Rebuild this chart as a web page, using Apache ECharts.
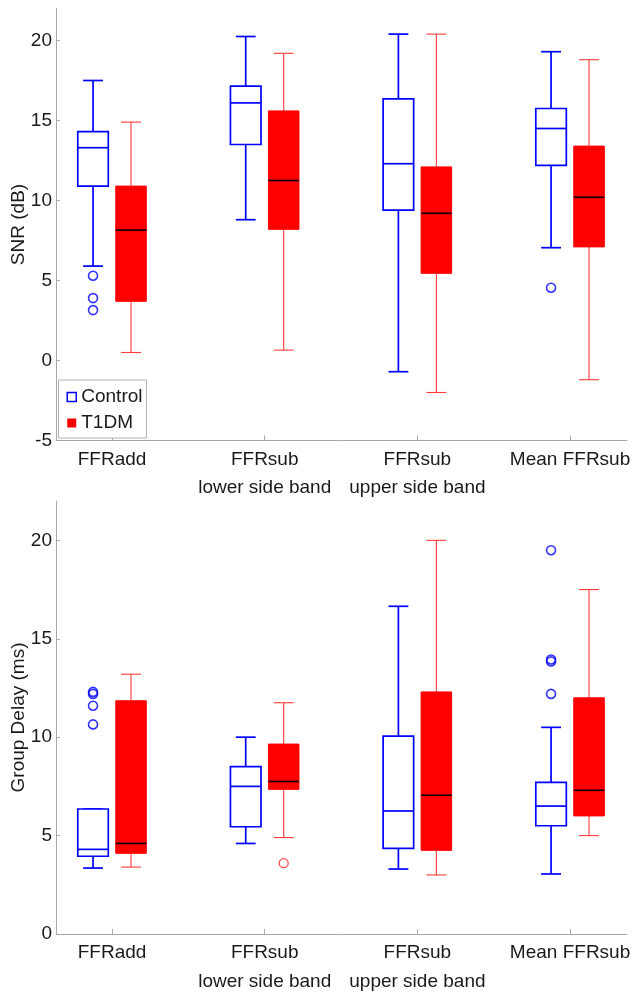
<!DOCTYPE html>
<html>
<head>
<meta charset="utf-8">
<script src="https://cdn.jsdelivr.net/npm/echarts@6/dist/echarts.min.js"></script>
<style>
  html, body { margin: 0; padding: 0; background: #fff; }
  #chart { width: 640px; height: 994px; }
</style>
</head>
<body>
<div id="chart"></div>
<script>
// Measurement groups along the x axis
const categories = ['FFRadd', 'FFRsub\nlower side band', 'FFRsub\nupper side band', 'Mean FFRsub'];

// Box statistics per group: [lower whisker, Q1, median, Q3, upper whisker]
const snrControl = [
  [5.9, 10.9, 13.3, 14.3, 17.5],
  [8.8, 13.5, 16.1, 17.15, 20.25],
  [-0.7, 9.4, 12.3, 16.35, 20.4],
  [7.05, 12.2, 14.5, 15.75, 19.3]
];
const snrT1DM = [
  [0.5, 3.7, 8.15, 10.9, 14.9],
  [0.65, 8.2, 11.25, 15.6, 19.2],
  [-2.0, 5.45, 9.2, 12.1, 20.4],
  [-1.2, 7.1, 10.2, 13.4, 18.8]
];
// Outliers: [group index, value]
const snrControlOutliers = [[0, 5.3], [0, 3.9], [0, 3.15], [3, 4.55]];
const snrT1DMOutliers = [];

const delayControl = [
  [3.35, 3.95, 4.3, 6.35, 6.35],
  [4.6, 5.45, 7.5, 8.5, 10.0],
  [3.3, 4.35, 6.25, 10.05, 16.65],
  [3.05, 5.5, 6.5, 7.7, 10.5]
];
const delayT1DM = [
  [3.4, 4.1, 4.6, 11.85, 13.2],
  [4.9, 7.35, 7.75, 9.65, 11.75],
  [3.0, 4.25, 7.05, 12.3, 20.0],
  [5.0, 6.0, 7.3, 12.0, 17.5]
];
const delayControlOutliers = [[0, 12.3], [0, 12.2], [0, 11.6], [0, 10.65], [3, 19.5], [3, 13.95], [3, 13.85], [3, 12.2]];
const delayT1DMOutliers = [[1, 3.6]];

// Y axis ranges and tick values
const snrRange = [-5, 22];
const snrTicks = [-5, 0, 5, 10, 15, 20];
const delayRange = [0, 22];
const delayTicks = [0, 5, 10, 15, 20];
const groupTicks = [1, 2, 3, 4];

// Layout constants (in x-axis units)
const GROUP_OFFSET = 0.1244;
const BOX_W = 0.2;
const CAP_W = 0.13;
const X_MIN = 0.633;
const X_MAX = 4.373;

const FONT = "'Liberation Sans', Arial, Helvetica, sans-serif";
const FONT_SIZE = 19;
const AXIS_COLOR = '#a8a8a8';
const TEXT_COLOR = '#1a1a1a';

const styles = {
  Control: { fill: '#ffffff', stroke: '#0000ff', boxWidth: 1.7, whisker: '#0000ff', whiskerWidth: 1.7, median: '#0000ff', medianWidth: 1.7 },
  T1DM: { fill: '#ff0000', stroke: '#ff0000', boxWidth: 1, whisker: '#ff3a3a', whiskerWidth: 1.1, median: '#000000', medianWidth: 1.6 }
};

function boxRenderer(st) {
  return function (params, api) {
    const x = api.value(0);
    const lo = api.coord([x, api.value(1)]);
    const q1 = api.coord([x, api.value(2)]);
    const md = api.coord([x, api.value(3)]);
    const q3 = api.coord([x, api.value(4)]);
    const hi = api.coord([x, api.value(5)]);
    const bw = api.size([BOX_W, 0])[0];
    const cw = api.size([CAP_W, 0])[0];
    const cx = lo[0];
    const wl = { stroke: st.whisker, lineWidth: st.whiskerWidth };
    return {
      type: 'group',
      children: [
        { type: 'line', shape: { x1: cx, y1: q3[1], x2: cx, y2: hi[1] }, style: wl },
        { type: 'line', shape: { x1: cx, y1: q1[1], x2: cx, y2: lo[1] }, style: wl },
        { type: 'line', shape: { x1: cx - cw / 2, y1: hi[1], x2: cx + cw / 2, y2: hi[1] }, style: wl },
        { type: 'line', shape: { x1: cx - cw / 2, y1: lo[1], x2: cx + cw / 2, y2: lo[1] }, style: wl },
        { type: 'rect', shape: { x: cx - bw / 2, y: q3[1], width: bw, height: q1[1] - q3[1] },
          style: { fill: st.fill, stroke: st.stroke, lineWidth: st.boxWidth } },
        { type: 'line', shape: { x1: cx - bw / 2, y1: md[1], x2: cx + bw / 2, y2: md[1] },
          style: { stroke: st.median, lineWidth: st.medianWidth } }
      ]
    };
  };
}

function boxData(stats, sign) {
  return stats.map((s, i) => [i + 1 + sign * GROUP_OFFSET].concat(s));
}
function outlierData(list, sign) {
  return list.map(o => [o[0] + 1 + sign * GROUP_OFFSET, o[1]]);
}

function panelSeries(g, ctrl, t1, ctrlOut, t1Out) {
  return [
    { type: 'custom', name: 'Control', xAxisIndex: g, yAxisIndex: g, renderItem: boxRenderer(styles.Control),
      itemStyle: { color: '#0000ff' }, encode: { x: 0, y: [1, 2, 3, 4, 5] }, data: boxData(ctrl, -1) },
    { type: 'custom', name: 'T1DM', xAxisIndex: g, yAxisIndex: g, renderItem: boxRenderer(styles.T1DM),
      itemStyle: { color: '#ff0000' }, encode: { x: 0, y: [1, 2, 3, 4, 5] }, data: boxData(t1, 1) },
    { type: 'scatter', name: 'Control', xAxisIndex: g, yAxisIndex: g, symbol: 'circle', symbolSize: 9,
      itemStyle: { color: 'rgba(0,0,0,0)', borderColor: '#0000ff', borderWidth: 1.6 }, data: outlierData(ctrlOut, -1) },
    { type: 'scatter', name: 'T1DM', xAxisIndex: g, yAxisIndex: g, symbol: 'circle', symbolSize: 9,
      itemStyle: { color: 'rgba(0,0,0,0)', borderColor: '#ff2020', borderWidth: 1.3 }, data: outlierData(t1Out, 1) }
  ];
}

function xAxisFor(g) {
  return {
    type: 'value', gridIndex: g, min: X_MIN, max: X_MAX,
    axisLine: { show: true, onZero: false, lineStyle: { color: AXIS_COLOR, width: 1 } },
    axisTick: { show: true, inside: true, length: 5, customValues: groupTicks, lineStyle: { color: AXIS_COLOR } },
    axisLabel: {
      customValues: groupTicks,
      formatter: v => categories[Math.round(v) - 1] || '',
      color: TEXT_COLOR, fontSize: FONT_SIZE, fontFamily: FONT, lineHeight: 28.5, margin: 5
    },
    splitLine: { show: false }
  };
}

function yAxisFor(g, range, ticks, name) {
  return {
    type: 'value', gridIndex: g, min: range[0], max: range[1], interval: 5,
    axisLine: { show: true, onZero: false, lineStyle: { color: AXIS_COLOR, width: 1 } },
    axisTick: { show: true, inside: true, length: 4, customValues: ticks, lineStyle: { color: AXIS_COLOR } },
    axisLabel: { customValues: ticks, color: TEXT_COLOR, fontSize: FONT_SIZE, fontFamily: FONT, margin: 4 },
    splitLine: { show: false },
    name: name, nameLocation: 'middle', nameGap: 28, nameMoveOverlap: false,
    nameTextStyle: { color: TEXT_COLOR, fontSize: FONT_SIZE, fontFamily: FONT }
  };
}

const chart = echarts.init(document.getElementById('chart'));
chart.setOption({
  animation: false,
  backgroundColor: '#ffffff',
  grid: [
    { left: 56, right: 13, top: 8.5, height: 432, outerBoundsMode: 'none', containLabel: false },
    { left: 56, right: 13, top: 501, height: 433, outerBoundsMode: 'none', containLabel: false }
  ],
  xAxis: [xAxisFor(0), xAxisFor(1)],
  yAxis: [yAxisFor(0, snrRange, snrTicks, 'SNR (dB)'), yAxisFor(1, delayRange, delayTicks, 'Group Delay (ms)')],
  legend: {
    orient: 'vertical', left: 58.5, top: 380,
    data: [
      { name: 'Control', icon: 'rect', itemStyle: { color: '#ffffff', borderColor: '#0000ff', borderWidth: 1.5 } },
      { name: 'T1DM', icon: 'rect', itemStyle: { color: '#ff0000', borderColor: '#ff0000', borderWidth: 0 } }
    ],
    itemWidth: 9, itemHeight: 9, itemGap: 6,
    textStyle: { fontSize: FONT_SIZE, color: TEXT_COLOR, fontFamily: FONT, lineHeight: 20 },
    backgroundColor: '#ffffff', borderColor: '#b4b4b4', borderWidth: 1,
    padding: [7, 4, 5, 8],
    selectedMode: false
  },
  series: [].concat(
    panelSeries(0, snrControl, snrT1DM, snrControlOutliers, snrT1DMOutliers),
    panelSeries(1, delayControl, delayT1DM, delayControlOutliers, delayT1DMOutliers)
  )
});
</script>
</body>
</html>
